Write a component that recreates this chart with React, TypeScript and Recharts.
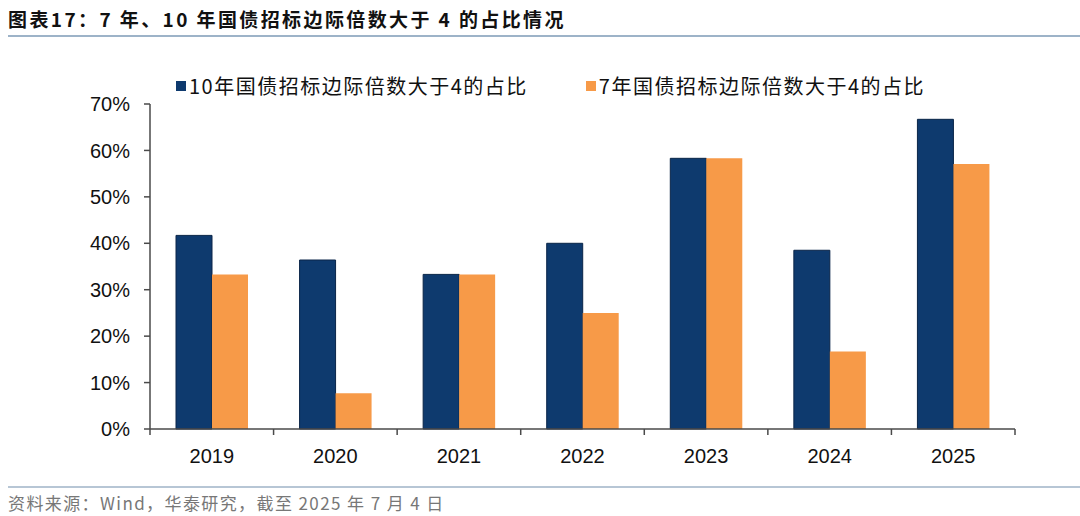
import React from 'react';
import { BarChart, Bar, XAxis, YAxis } from 'recharts';

// data
const years = ['2019', '2020', '2021', '2022', '2023', '2024', '2025'];
const tenYearShare = [41.7, 36.4, 33.3, 40.0, 58.3, 38.5, 66.7];
const sevenYearShare = [33.3, 7.7, 33.3, 25.0, 58.3, 16.7, 57.1];
const yTicks = [0, 10, 20, 30, 40, 50, 60, 70];

const series = [
  { key: 'ten', name: '10年国债招标边际倍数大于4的占比', color: '#0E3A6E', stroke: '#0A2548' },
  { key: 'seven', name: '7年国债招标边际倍数大于4的占比', color: '#F79A48', stroke: 'none' },
];

const data = years.map((year, i) => ({
  year,
  ten: tenYearShare[i],
  seven: sevenYearShare[i],
}));

const PLOT_LEFT = 150;
const PLOT_RIGHT = 1015;
const BAND = (PLOT_RIGHT - PLOT_LEFT) / years.length;
const AXIS_COLOR = '#4a4a4a';
const LABEL_FONT = '"Liberation Sans", Arial, sans-serif';
const CJK_FONT = '"Noto Sans CJK SC", "Noto Sans", sans-serif';

// category label at the centre, tick marks on the band edges
function YearTick(props: any) {
  const { x, y, payload, index } = props;
  const left = x - BAND / 2;
  const right = x + BAND / 2;
  return (
    <g>
      <line x1={left} y1={y} x2={left} y2={y + 6} stroke={AXIS_COLOR} strokeWidth={1.5} />
      {index === years.length - 1 && (
        <line x1={right} y1={y} x2={right} y2={y + 6} stroke={AXIS_COLOR} strokeWidth={1.5} />
      )}
      <text x={x} y={y + 34} textAnchor="middle" fill="#111" fontSize={20} fontFamily={LABEL_FONT}>
        {payload.value}
      </text>
    </g>
  );
}

export default function App() {
  return (
    <div
      style={{
        position: 'absolute',
        left: 0,
        top: 0,
        width: 1080,
        height: 516,
        background: '#fff',
        overflow: 'hidden',
      }}
    >
      <div
        style={{
          position: 'absolute',
          left: 8,
          top: 5,
          fontFamily: CJK_FONT,
          fontWeight: 700,
          fontSize: 19,
          letterSpacing: 2.4,
          color: '#111',
          whiteSpace: 'nowrap',
        }}
      >
        图表17：7 年、10 年国债招标边际倍数大于 4 的占比情况
      </div>
      <div style={{ position: 'absolute', left: 8, right: 0, top: 35, height: 2, background: '#9DB3C8' }} />

      <BarChart
        width={1080}
        height={516}
        data={data}
        margin={{ top: 104, right: 65, bottom: 57, left: 0 }}
        barGap={0}
      >
        <XAxis
          dataKey="year"
          height={30}
          axisLine={{ stroke: AXIS_COLOR, strokeWidth: 1.5 }}
          tickLine={false}
          tickSize={0}
          tickMargin={0}
          tick={<YearTick />}
          interval={0}
        />
        <YAxis
          width={150}
          domain={[0, 70]}
          ticks={yTicks}
          interval={0}
          axisLine={{ stroke: AXIS_COLOR, strokeWidth: 1.5 }}
          tickLine={{ stroke: AXIS_COLOR, strokeWidth: 1.5 }}
          tickSize={6}
          tickMargin={14}
          tickFormatter={(v) => `${v}%`}
          tick={{ fill: '#111', fontSize: 20, fontFamily: LABEL_FONT }}
        />
        {series.map((s) => (
          <Bar
            key={s.key}
            dataKey={s.key}
            name={s.name}
            fill={s.color}
            stroke={s.stroke}
            strokeWidth={1}
            barSize={36}
            isAnimationActive={false}
          />
        ))}
      </BarChart>

      {/* legend */}
      <div
        style={{
          position: 'absolute',
          left: 176,
          top: 71,
          display: 'flex',
          fontFamily: CJK_FONT,
          fontSize: 20,
          letterSpacing: 1.5,
          color: '#111',
          whiteSpace: 'nowrap',
        }}
      >
        {series.map((s, i) => (
          <div
            key={s.key}
            style={{ display: 'flex', alignItems: 'center', marginRight: i === 0 ? 58 : 0 }}
          >
            <span
              style={{ display: 'inline-block', width: 10, height: 10, background: s.color, marginRight: 3 }}
            />
            <span>{s.name}</span>
          </div>
        ))}
      </div>

      <div style={{ position: 'absolute', left: 8, right: 0, top: 486, height: 2, background: '#B7C6D5' }} />
      <div
        style={{
          position: 'absolute',
          left: 8,
          top: 490,
          fontFamily: CJK_FONT,
          fontSize: 17,
          letterSpacing: 1.4,
          color: '#777',
          whiteSpace: 'nowrap',
        }}
      >
        资料来源：Wind，华泰研究，截至 2025 年 7 月 4 日
      </div>
    </div>
  );
}
